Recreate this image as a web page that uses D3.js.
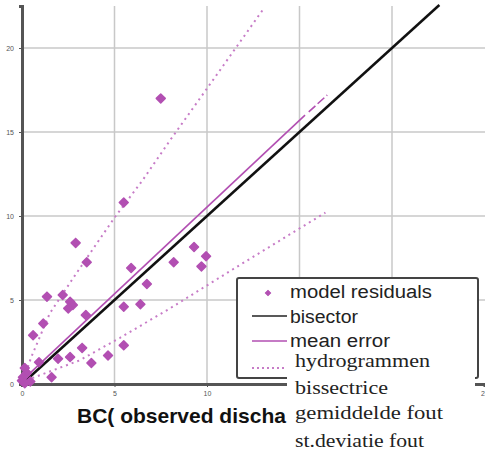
<!DOCTYPE html>
<html>
<head>
<meta charset="utf-8">
<script src="https://cdn.jsdelivr.net/npm/d3@7"></script>
<style>
body { margin: 0; background: #fff; }
</style>
</head>
<body>
<div id="chart-area"></div>
<script>
const WIDTH = 485
const HEIGHT = 454

// observed (x) vs modelled (y) discharge
const observed = [7.5, 5.5, 2.9, 3.5, 1.35, 2.2, 2.6, 2.75, 2.5, 1.15, 0.6, 3.45, 5.9, 6.75, 5.5, 6.4, 8.2, 9.3, 9.7, 9.95,
	5.5, 4.65, 3.75, 3.25, 2.6, 1.95, 0.92, 1.6, 0.15, 0.27, 0.05, 0.0, 0.15, 0.45]
const modelled = [17.0, 10.8, 8.4, 7.25, 5.2, 5.3, 4.9, 4.7, 4.5, 3.6, 2.9, 4.1, 6.9, 5.95, 4.6, 4.75, 7.25, 8.15, 7.0, 7.6,
	2.3, 1.7, 1.25, 2.15, 1.6, 1.5, 1.3, 0.4, 0.95, 0.65, 0.4, 0.2, 0.05, 0.15]

const bisectorX = [0, 22.56]
const meanErrorX = [0, 15.3]
const meanErrorY = [0.2, 16.0]
const meanTailX = [15.5, 16.5]
const meanTailY = [16.2, 17.2]
const upperDevX = [0, 0.5, 1.5, 2.7, 4, 5, 6.5, 8, 10.2, 13.1]
const upperDevY = [0, 1.6, 4.2, 6.2, 8.3, 9.9, 12.1, 14.5, 17.9, 22.4]
const lowerDevX = [0, 0.3, 3.1, 5.3, 8, 11.8, 16.4]
const lowerDevY = [0, 0.25, 1.4, 2.75, 4.5, 7.1, 10.2]

const gridX = [5, 10, 15, 20]
const xTicks = [0, 5, 10, 25]
const yTicks = [0, 5, 10, 15, 20]
const legendLabels = ["model residuals", "bisector", "mean error"]
const dutchLabels = ["hydrogrammen", "bissectrice", "gemiddelde  fout", "st.deviatie fout"]
const xTitle = "BC( observed discha"

const PINK = "#b24fb2"
const DOT_PINK = "#c77cc7"

const svg = d3.select("#chart-area")
	.append("svg")
	.attr("width", WIDTH)
	.attr("height", HEIGHT)

const x = d3.scaleLinear().domain([0, 25]).range([22, 484.5])
const y = d3.scaleLinear().domain([0, 22.5]).range([384, 6])

// grid
svg.append("g").selectAll("line").data(yTicks.filter(d => d > 0)).enter()
	.append("line")
	.attr("x1", x(0)).attr("x2", WIDTH)
	.attr("y1", d => y(d)).attr("y2", d => y(d))
	.attr("stroke", "#c8c8c8").attr("stroke-width", 1.5)
svg.append("g").selectAll("line").data(gridX).enter()
	.append("line")
	.attr("x1", d => x(d)).attr("x2", d => x(d))
	.attr("y1", y(22.5)).attr("y2", y(0))
	.attr("stroke", "#c8c8c8").attr("stroke-width", 1.5)

// axes
const xAxis = d3.axisBottom(x).tickValues(xTicks).tickSize(3).tickPadding(4)
const yAxis = d3.axisLeft(y).tickValues(yTicks).tickSize(3).tickPadding(5)

svg.append("g")
	.attr("transform", `translate(0, ${y(0)})`)
	.call(xAxis)
svg.append("g")
	.attr("transform", `translate(${x(0)}, 0)`)
	.call(yAxis)

svg.selectAll(".domain").attr("stroke", "#555").attr("stroke-width", 3)
svg.selectAll(".tick line").attr("stroke", "#555")
svg.selectAll(".tick text")
	.attr("fill", "#555")
	.style("font-family", "Liberation Sans, Arial, sans-serif")
	.style("font-size", "7px")

const line = d3.line().x(d => x(d[0])).y(d => y(d[1]))

// standard deviation lines
svg.append("path")
	.attr("d", line(d3.zip(upperDevX, upperDevY)))
	.attr("fill", "none").attr("stroke", DOT_PINK)
	.attr("stroke-width", 2).attr("stroke-dasharray", "2,4")
svg.append("path")
	.attr("d", line(d3.zip(lowerDevX, lowerDevY)))
	.attr("fill", "none").attr("stroke", DOT_PINK)
	.attr("stroke-width", 2).attr("stroke-dasharray", "2,4")

// bisector
svg.append("path")
	.attr("d", line(d3.zip(bisectorX, bisectorX)))
	.attr("fill", "none").attr("stroke", "#111").attr("stroke-width", 2.5)

// mean error
svg.append("path")
	.attr("d", line(d3.zip(meanErrorX, meanErrorY)))
	.attr("fill", "none").attr("stroke", PINK).attr("stroke-width", 1.6)
svg.append("path")
	.attr("d", line(d3.zip(meanTailX, meanTailY)))
	.attr("fill", "none").attr("stroke", PINK).attr("stroke-width", 1.6)
	.attr("stroke-dasharray", "9,3")

// residual points
const marker = d3.symbol().type(d3.symbolSquare).size(40)
svg.append("g").selectAll("path").data(d3.zip(observed, modelled)).enter()
	.append("path")
	.attr("d", marker)
	.attr("transform", d => `translate(${x(d[0])}, ${y(d[1])}) rotate(45)`)
	.attr("fill", PINK)
	.attr("stroke", PINK).attr("stroke-width", 1.5).attr("stroke-linejoin", "round")

// legend
const legend = svg.append("g")
legend.append("rect")
	.attr("x", 237).attr("y", 278).attr("width", 241).attr("height", 100)
	.attr("rx", 2)
	.attr("fill", "#fff").attr("stroke", "#444").attr("stroke-width", 2)

legend.append("path")
	.attr("d", d3.symbol().type(d3.symbolSquare).size(14))
	.attr("transform", "translate(268, 293) rotate(45)")
	.attr("fill", PINK).attr("stroke", PINK)

legend.append("line").attr("x1", 252).attr("x2", 287).attr("y1", 316).attr("y2", 316)
	.attr("stroke", "#222").attr("stroke-width", 1.5)
legend.append("line").attr("x1", 252).attr("x2", 287).attr("y1", 341).attr("y2", 341)
	.attr("stroke", PINK).attr("stroke-width", 1.5)
legend.append("line").attr("x1", 252).attr("x2", 287).attr("y1", 368).attr("y2", 368)
	.attr("stroke", DOT_PINK).attr("stroke-width", 2).attr("stroke-dasharray", "2,3")

const legendBase = [298, 323, 347]
const legendWidth = [142, 68, 100]
legend.selectAll("text.leg").data(legendLabels).enter()
	.append("text")
	.attr("class", "leg")
	.attr("x", 290)
	.attr("y", (d, i) => legendBase[i])
	.attr("textLength", (d, i) => legendWidth[i])
	.attr("lengthAdjust", "spacingAndGlyphs")
	.attr("fill", "#222")
	.style("font-family", "Liberation Sans, Arial, sans-serif")
	.style("font-size", "18px")
	.text(d => d)

// x axis title (the rest of it sits behind the pasted block)
svg.append("text")
	.attr("x", 77).attr("y", 423)
	.attr("fill", "#111")
	.style("font-family", "Liberation Sans, Arial, sans-serif")
	.style("font-size", "21px")
	.style("font-weight", "bold")
	.text(xTitle)

// pasted dutch label block
svg.append("rect")
	.attr("x", 287).attr("y", 352).attr("width", 188).attr("height", HEIGHT - 352)
	.attr("fill", "#fff")

const dutchBase = [367, 394, 419, 447]
const dutchWidth = [135, 93, 148, 129]
svg.selectAll("text.nl").data(dutchLabels).enter()
	.append("text")
	.attr("class", "nl")
	.attr("x", 295)
	.attr("y", (d, i) => dutchBase[i])
	.attr("textLength", (d, i) => dutchWidth[i])
	.attr("lengthAdjust", "spacingAndGlyphs")
	.attr("fill", "#222")
	.style("font-family", "Liberation Serif, Times New Roman, serif")
	.style("font-size", "18.5px")
	.text(d => d)
</script>
</body>
</html>
